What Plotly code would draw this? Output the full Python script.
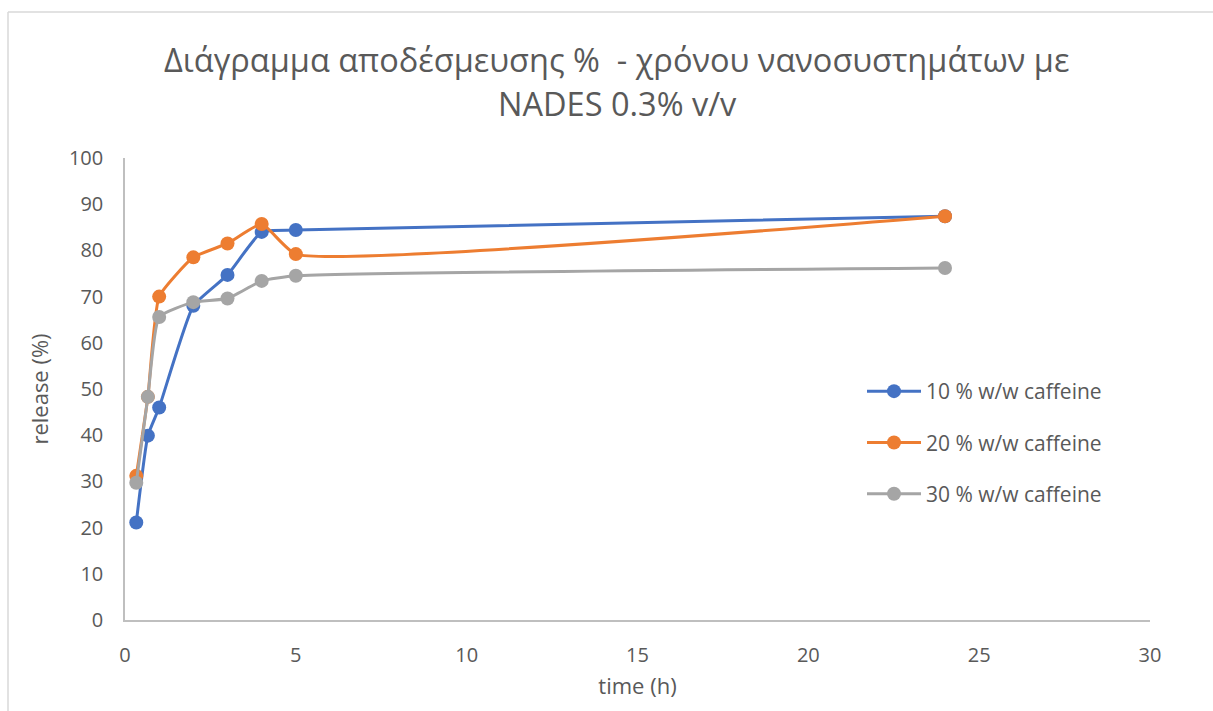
import plotly.graph_objects as go

# Sampling times (h)
time_h = [0.33, 0.67, 1, 2, 3, 4, 5, 24]

# Cumulative release (%) per caffeine loading
release_10 = [21.1, 39.9, 46.0, 68.0, 74.7, 84.0, 84.4, 87.4]
release_20 = [31.2, 48.3, 70.0, 78.5, 81.5, 85.7, 79.2, 87.4]
release_30 = [29.7, 48.3, 65.6, 68.8, 69.6, 73.4, 74.5, 76.2]

series_names = ["10 % w/w caffeine", "20 % w/w caffeine", "30 % w/w caffeine"]
colors = ["#4472C4", "#ED7D31", "#A5A5A5"]

x_ticks = [0, 5, 10, 15, 20, 25, 30]
y_ticks = list(range(0, 101, 10))

FONT = "Open Sans"
TEXT = "#595959"

fig = go.Figure()
for i, (name, vals, col) in enumerate(zip(series_names, [release_10, release_20, release_30], colors)):
    fig.add_trace(go.Scatter(
        x=time_h, y=vals, name=name, mode="lines+markers", legendgroup=f"g{i}",
        line=dict(color=col, width=3, shape="spline", smoothing=0.45),
        marker=dict(color=col, size=14),
    ))

fig.update_layout(
    width=1213, height=711,
    margin=dict(l=125, r=63, t=158, b=91),
    paper_bgcolor="white", plot_bgcolor="white",
    font=dict(family=FONT, color=TEXT, size=20),
    showlegend=True,
    legend=dict(
        x=(862 - 125) / 1025, y=(620 - 371) / 462, xanchor="left", yanchor="top",
        font=dict(size=21, color=TEXT),
        tracegroupgap=21, itemwidth=54,
        bgcolor="rgba(0,0,0,0)",
    ),
    xaxis=dict(
        range=[0, 30], tickvals=x_ticks, showgrid=False, zeroline=False,
        showline=True, linecolor="#BFBFBF", linewidth=1.5,
        ticks="", ticklabelstandoff=16,
        title=dict(text="time (h)", font=dict(size=22, color=TEXT), standoff=12),
    ),
    yaxis=dict(
        range=[0, 100], tickvals=y_ticks, showgrid=False, zeroline=False,
        showline=True, linecolor="#BFBFBF", linewidth=1.5,
        ticks="", ticklabelstandoff=16,
        title=dict(text="release (%)", font=dict(size=22, color=TEXT), standoff=14),
    ),
    annotations=[
        dict(text="Διάγραμμα αποδέσμευσης %  - χρόνου νανοσυστημάτων με",
             xref="paper", yref="paper", x=(616 - 125) / 1025, y=(620 - 60) / 462,
             xanchor="center", yanchor="middle", showarrow=False,
             font=dict(family=FONT, size=32.5, color=TEXT)),
        dict(text="NADES 0.3% v/v",
             xref="paper", yref="paper", x=(617 - 125) / 1025, y=(620 - 103) / 462,
             xanchor="center", yanchor="middle", showarrow=False,
             font=dict(family=FONT, size=32.5, color=TEXT)),
    ],
    shapes=[
        # chart-area frame (top and left edges)
        dict(type="line", xref="paper", yref="paper",
             x0=(8 - 125) / 1025, x1=1.2, y0=(620 - 12) / 462, y1=(620 - 12) / 462,
             line=dict(color="#D9D9D9", width=1.5)),
        dict(type="line", xref="paper", yref="paper",
             x0=(8 - 125) / 1025, x1=(8 - 125) / 1025, y0=(620 - 12) / 462, y1=-0.4,
             line=dict(color="#D9D9D9", width=1.5)),
    ],
)

fig.write_html("out.html")
